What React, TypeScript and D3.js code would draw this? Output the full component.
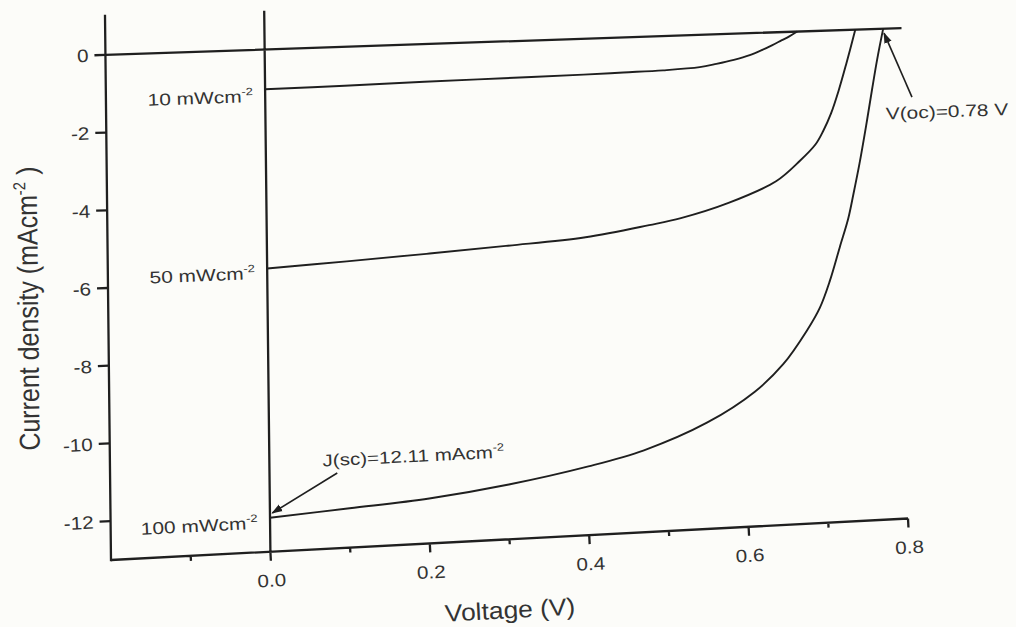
import React, { useEffect, useRef } from 'react';
import * as d3 from 'd3';

// J-V curves (V, mA/cm^2)
const voltage10 = [0, 0.1, 0.2, 0.3, 0.4, 0.45, 0.5, 0.546, 0.567, 0.589, 0.609, 0.624, 0.637, 0.649, 0.659, 0.669];
const current10 = [-1.03, -1.01, -0.98, -0.96, -0.94, -0.92, -0.9, -0.85, -0.78, -0.69, -0.58, -0.46, -0.34, -0.22, -0.12, 0];

const voltage50 = [0, 0.1, 0.2, 0.3, 0.4, 0.48, 0.52, 0.58, 0.64, 0.67, 0.69, 0.7, 0.71, 0.72, 0.73, 0.742];
const current50 = [-5.67, -5.57, -5.46, -5.34, -5.2, -4.95, -4.8, -4.45, -3.93, -3.42, -3.0, -2.65, -2.2, -1.6, -0.9, 0];

const voltage100 = [0, 0.1, 0.2, 0.3, 0.4, 0.47, 0.55, 0.61, 0.646, 0.676, 0.693, 0.706, 0.719, 0.73, 0.737, 0.745, 0.754, 0.762, 0.769, 0.777];
const current100 = [-12.12, -11.98, -11.83, -11.57, -11.2, -10.85, -10.2, -9.45, -8.76, -7.91, -7.31, -6.61, -5.73, -4.99, -4.34, -3.55, -2.55, -1.6, -0.8, 0];

const intensities = ['10', '50', '100'];
const intensityLabelY = [-1.35, -5.93, -12.39];

const yTicks = [0, -2, -4, -6, -8, -10, -12];
const xTicks = [0, 0.2, 0.4, 0.6, 0.8];
const xMinorTicks = [-0.1, 0.1, 0.3, 0.5, 0.7];

const jscText = 'J(sc)=12.11 mAcm';
const vocText = 'V(oc)=0.78 V';

const W = 1016;
const H = 627;
const FONT = "'Liberation Sans', Arial, sans-serif";

const App = () => {
  const svgRef = useRef<SVGSVGElement>(null);

  useEffect(() => {
    const svg = d3.select(svgRef.current);
    svg.selectAll('*').remove();

    const x = d3.scaleLinear().domain([-0.2, 0.8]).range([0, 1]);
    const y = d3.scaleLinear().domain([1, -13]).range([0, 1]);

    // the scanned page is tilted and a bit skewed, so map the plot frame onto its 4 corners
    const TL = [105, 16], TR = [901, -9.7], BL = [111, 560], BR = [908, 518.5];
    const warp = (xv: number, yv: number): [number, number] => {
      const u = x(xv), v = y(yv);
      const tx = TL[0] + u * (TR[0] - TL[0]), ty = TL[1] + u * (TR[1] - TL[1]);
      const bx = BL[0] + u * (BR[0] - BL[0]), by = BL[1] + u * (BR[1] - BL[1]);
      return [tx + v * (bx - tx), ty + v * (by - ty)];
    };
    // unit vector along the (tilted) horizontal direction at a data point
    const dir = (xv: number, yv: number): [number, number] => {
      const a = warp(xv, yv), b = warp(xv + 0.01, yv);
      const l = Math.hypot(b[0] - a[0], b[1] - a[1]);
      return [(b[0] - a[0]) / l, (b[1] - a[1]) / l];
    };
    const deg = (a: [number, number], b: [number, number]) => Math.atan2(b[1] - a[1], b[0] - a[0]) * 180 / Math.PI;
    const tilt = (xv: number, yv: number) => deg(warp(xv, yv), warp(xv + 0.01, yv));
    const vtilt = (xv: number, yv: number) => deg(warp(xv, yv), warp(xv, yv + 0.1));
    const place = (xv: number, yv: number) => {
      const p = warp(xv, yv);
      return `translate(${p[0]},${p[1]}) rotate(${tilt(xv, yv)})`;
    };

    const ink = '#1f1f1f';
    const textInk = '#333';

    svg.append('rect').attr('width', W).attr('height', H).attr('fill', '#fcfcf9');

    svg.append('defs').append('marker')
      .attr('id', 'arrowhead')
      .attr('viewBox', '0 0 10 10')
      .attr('refX', 9).attr('refY', 5)
      .attr('markerWidth', 11).attr('markerHeight', 11)
      .attr('markerUnits', 'userSpaceOnUse')
      .attr('orient', 'auto')
      .append('path').attr('d', 'M0,1.5 L10,5 L0,8.5 Z').attr('fill', ink);

    // frame: bottom axis, V=0 and J=0 lines, then ticks (left axis goes on top at the end)
    const path = d3.path();
    const pt = (p: [number, number], move: boolean) => (move ? path.moveTo(p[0], p[1]) : path.lineTo(p[0], p[1]));
    pt(warp(-0.2, -13), true);
    pt(warp(0.8, -13), false);
    pt(warp(0, 1), true);
    pt(warp(0, -13), false);
    pt(warp(-0.2, 0), true);
    pt(warp(0.8, 0), false);

    // left ticks point outwards (left)
    yTicks.forEach((t) => {
      const p = warp(-0.2, t), d = dir(-0.2, t);
      pt(p, true);
      pt([p[0] - 11 * d[0], p[1] - 11 * d[1]], false);
    });
    // bottom ticks point down
    const bottomTick = (t: number, len: number) => {
      const p = warp(t, -13), d = dir(t, -13);
      pt(p, true);
      pt([p[0] - len * d[1], p[1] + len * d[0]], false);
    };
    xTicks.forEach((t) => bottomTick(t, 9));
    xMinorTicks.forEach((t) => bottomTick(t, 5));

    svg.append('path')
      .attr('d', path.toString())
      .attr('fill', 'none')
      .attr('stroke', ink)
      .attr('stroke-width', 2.3);

    const label = (g: any, main: string, sup: string, size: number, anchor: string) => {
      const t = g.append('text')
        .attr('font-family', FONT).attr('font-size', size)
        .attr('fill', textInk).attr('text-anchor', anchor);
      t.append('tspan').text(main);
      if (sup) {
        t.append('tspan').attr('dy', -size * 0.42).attr('font-size', size * 0.62).text(sup);
      }
      return t;
    };

    yTicks.forEach((t) => {
      svg.append('g').attr('transform', place(-0.2, t) + ' translate(-17,6.5) scale(1.15,1)')
        .call((s: any) => label(s, String(t), '', 18, 'end'));
    });
    xTicks.forEach((t) => {
      svg.append('g').attr('transform', place(t, -13) + ' translate(0,35) scale(1.15,1)')
        .call((s: any) => label(s, d3.format('.1f')(t), '', 18, 'middle'));
    });

    // axis titles
    svg.append('g').attr('transform', place(0.3, -15.06) + ' scale(1.1,1)')
      .call((s: any) => label(s, 'Voltage (V)', '', 24, 'middle'));

    const yt = warp(-0.288, -6.45);
    const yTitle = svg.append('g')
      .attr('transform', `translate(${yt[0]},${yt[1]}) rotate(${vtilt(-0.288, -6.45)}) scale(1,1.15)`)
      .append('text')
      .attr('font-family', FONT).attr('font-size', 25)
      .attr('fill', textInk).attr('text-anchor', 'middle');
    yTitle.append('tspan').text('Current density (mAcm');
    yTitle.append('tspan').attr('dy', -10).attr('font-size', 15).text('-2');
    yTitle.append('tspan').attr('dy', 10).text(' )');

    // J-V curves
    const line = d3.line<[number, number]>()
      .x((d) => warp(d[0], d[1])[0])
      .y((d) => warp(d[0], d[1])[1])
      .curve(d3.curveCatmullRom.alpha(0.5));

    const series = [
      d3.zip(voltage10, current10),
      d3.zip(voltage50, current50),
      d3.zip(voltage100, current100),
    ];
    series.forEach((s) => {
      svg.append('path')
        .datum(s as [number, number][])
        .attr('d', line)
        .attr('fill', 'none')
        .attr('stroke', ink)
        .attr('stroke-width', 1.9);
    });

    intensities.forEach((p, i) => {
      svg.append('g').attr('transform', place(-0.015, intensityLabelY[i]) + ' scale(1.23,1)')
        .call((s: any) => label(s, `${p} mWcm`, '-2', 17, 'end'));
    });

    // annotations
    const arrow = (x0: number, y0: number, x1: number, y1: number) => {
      const a = warp(x0, y0), b = warp(x1, y1);
      svg.append('path')
        .attr('d', `M${a[0]},${a[1]}L${b[0]},${b[1]}`)
        .attr('stroke', ink).attr('stroke-width', 1.6).attr('fill', 'none')
        .attr('marker-end', 'url(#arrowhead)');
    };

    arrow(0.085, -11.05, 0.003, -12.0);
    svg.append('g').attr('transform', place(0.067, -10.86) + ' scale(1.21,1)')
      .call((s: any) => label(s, jscText, '-2', 17, 'start'));

    arrow(0.812, -1.84, 0.778, -0.12);
    svg.append('g').attr('transform', place(0.779, -2.41) + ' scale(1.23,1)')
      .call((s: any) => label(s, vocText, '', 17, 'start'));

    // left axis, drawn last so nothing sits over it
    const a = warp(-0.2, 1), b = warp(-0.2, -13);
    svg.append('line')
      .attr('x1', a[0]).attr('y1', a[1]).attr('x2', b[0]).attr('y2', b[1])
      .attr('stroke', ink).attr('stroke-width', 2.3).attr('stroke-linecap', 'square');
  }, []);

  return (
    <svg
      ref={svgRef}
      width={W}
      height={H}
      style={{ position: 'absolute', left: 0, top: 0, display: 'block' }}
    />
  );
};

export default App;
